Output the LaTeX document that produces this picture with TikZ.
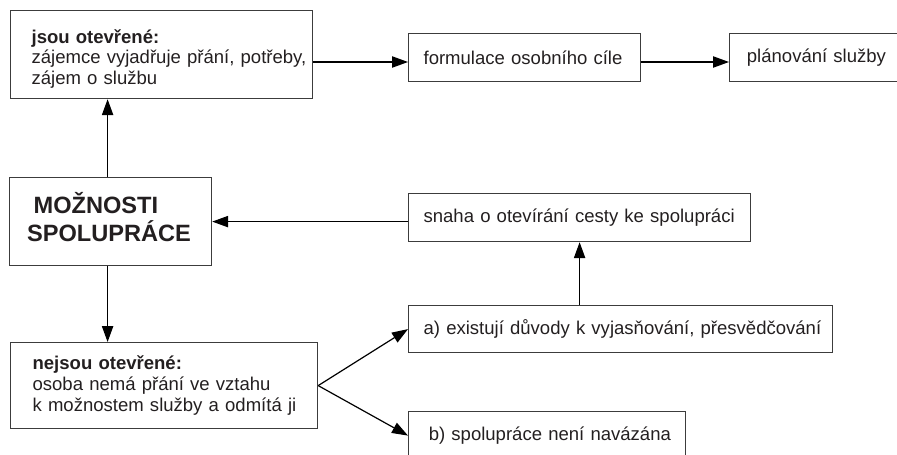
\documentclass[tikz,border=0pt]{standalone}
\usepackage{fontspec}
\setmainfont{Liberation Sans}
\usetikzlibrary{arrows.meta}

\tikzset{every picture/.style={line width=0.75pt}}
\tikzset{
  box/.style={draw={rgb, 255:red, 60; green, 60; blue, 60 }, line width=0.9pt, anchor=north west,
    align=left, inner xsep=4pt, inner ysep=0pt, minimum height=36pt,
    text={rgb, 255:red, 35; green, 31; blue, 32 }, font=\fontsize{13.9}{15.5}\selectfont, lead=7.25pt},
  boxw/.style={text width=#1-8pt},
  lead/.style={execute at begin node={\leftskip=#1\relax}},
  arr/.style={-{Triangle[length=12pt,width=8.5pt]}, line width=0.9pt},
}

\begin{document}
\begin{tikzpicture}[x=0.75pt,y=0.75pt,yscale=-1,xscale=1]
  \useasboundingbox (0,0) rectangle (897,454);
  \clip (0,0) rectangle (897,454);

  % top row
  \node[box, boxw=226.5pt, minimum height=66pt, lead=11.75pt, text height=24.4pt, text depth=41.6pt] (open) at (10,10)
    {\textbf{jsou otevřené:}\\zájemce vyjadřuje přání, potřeby,\\zájem o službu};
  \node[box, boxw=174pt] (form) at (408,33) {formulace osobního cíle};
  \node[box, boxw=180pt, lead=9pt] (plan) at (729,33) {plánování služby};

  % middle row
  \node[box, boxw=151.5pt, minimum height=66pt, lead=9.1pt, text height=16pt, text depth=28.5pt,
        font=\fontsize{17.7}{21}\selectfont\bfseries] (mozn) at (9,177)
    {\hspace*{4.9pt}MOŽNOSTI\\SPOLUPRÁCE};
  \node[box, boxw=256.5pt] (snaha) at (408,193) {snaha o otevírání cesty ke spolupráci};

  % bottom row
  \node[box, boxw=230.25pt, minimum height=64.5pt, lead=12.5pt] (closed) at (10,342)
    {\textbf{nejsou otevřené:}\\osoba nemá přání ve vztahu\\k možnostem služby a odmítá ji};
  \node[box, boxw=318pt, minimum height=35.25pt] (reasons) at (408,305) {a) existují důvody k vyjasňování, přesvědčování};
  \node[box, boxw=207.75pt] (nolink) at (408,411) {\hspace*{3.9pt}b) spolupráce není navázána};

  % connectors
  \coordinate (row) at (0,62);
  \draw[arr] (open.east |- row) -- (form.west |- row);
  \draw[arr] (form.east |- row) -- (plan.west |- row);
  \draw[arr] ([xshift=-2.25pt]mozn.north) -- ([xshift=-2.25pt]mozn.north |- open.south);
  \draw[arr] ([xshift=-2.25pt]mozn.south) -- ([xshift=-2.25pt]mozn.south |- closed.north);
  \draw[arr] (snaha.west |- mozn.east) -- (mozn.east);
  \draw[arr] (snaha.south |- reasons.north) -- (snaha.south);
  \draw[arr] (closed.east) -- (reasons.west);
  \draw[arr] (closed.east) -- (nolink.west);
\end{tikzpicture}
\end{document}
